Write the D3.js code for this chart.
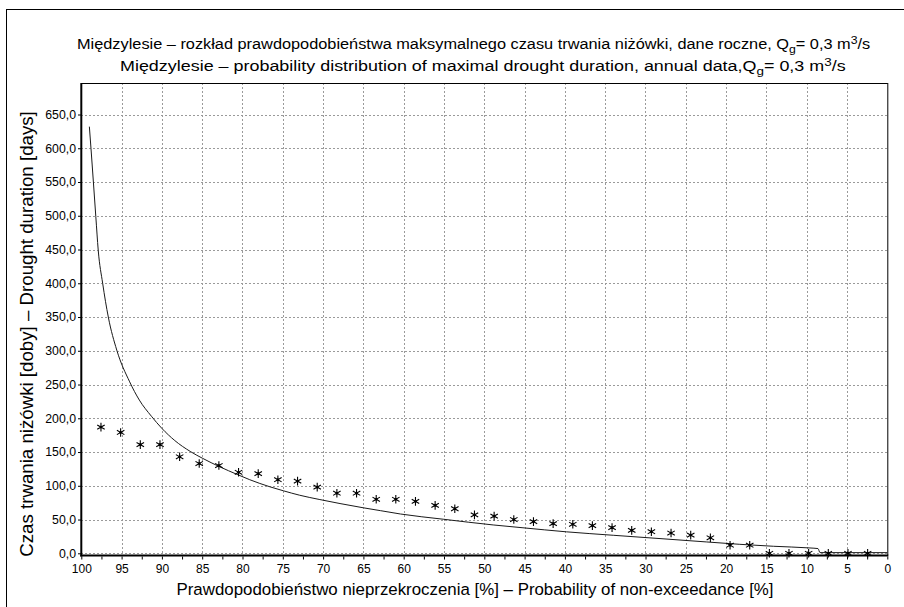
<!DOCTYPE html>
<html>
<head>
<meta charset="utf-8">
<script src="https://cdn.jsdelivr.net/npm/d3@7"></script>
<style>
  html, body { margin: 0; padding: 0; background: #fff; }
  svg { display: block; font-family: "Liberation Sans", Arial, "DejaVu Sans", sans-serif; }
</style>
</head>
<body>
<svg id="chart" width="904" height="607"></svg>
<script>
// Empirical plotting positions [%] of the 40 annual maxima
const obsProb = [97.56, 95.12, 92.68, 90.24, 87.80, 85.37, 82.93, 80.49, 78.05, 75.61,
                 73.17, 70.73, 68.29, 65.85, 63.41, 60.98, 58.54, 56.10, 53.66, 51.22,
                 48.78, 46.34, 43.90, 41.46, 39.02, 36.59, 34.15, 31.71, 29.27, 26.83,
                 24.39, 21.95, 19.51, 17.07, 14.63, 12.20, 9.76, 7.32, 4.88, 2.44];
// Observed maximal drought duration [days]
const obsDays = [187, 179, 161, 161, 143, 133, 130, 120, 118, 109,
                 107, 98, 89, 89, 80, 80, 77, 71, 66, 57,
                 55, 50, 47, 44, 43, 41, 38, 34, 32, 30,
                 27, 23, 12, 12, 0, 0, 0, 0, 0, 0];

// Fitted distribution: non-exceedance probability [%] and duration [days]
const fitProb = [99.0, 98.8, 98.5, 98.2, 97.9, 97.35, 96.65, 95.6, 94.0, 92.8,
                 91.3, 90.0, 88.4, 86.5, 85.0, 82.8, 80.7, 79.1, 76.6, 74.9,
                 72.9, 70.4, 67.9, 65.0, 62.9, 60.4, 55.1, 48.9, 45.2, 39.8,
                 34.0, 28.2, 22.4, 18.3, 14.1, 9.6, 8.6, 8.35, 0];
const fitDays = [632, 600, 550, 499, 449, 400, 350, 301, 254, 227,
                 203, 185, 167, 151, 141, 128, 117, 109, 98.5, 92.5,
                 86, 79.6, 73.7, 67.4, 63.2, 58.2, 50.5, 42, 37.8, 31.8,
                 26.7, 21.8, 16.8, 13.3, 10.4, 7.9, 7.0, 1, 1];

const xTicks = [100, 95, 90, 85, 80, 75, 70, 65, 60, 55, 50, 45, 40, 35, 30, 25, 20, 15, 10, 5, 0];
const xMinorTicks = [97.5, 92.5, 87.5, 82.5, 77.5, 72.5, 67.5, 62.5, 57.5, 52.5,
                     47.5, 42.5, 37.5, 32.5, 27.5, 22.5, 17.5, 12.5, 7.5, 2.5];
const yTicks = [0, 50, 100, 150, 200, 250, 300, 350, 400, 450, 500, 550, 600, 650];

const titlePl = ["Międzylesie – rozkład prawdopodobieństwa maksymalnego czasu trwania niżówki, dane roczne, Q", "g", "= 0,3 m", "3", "/s"];
const titleEn = ["Międzylesie – probability distribution of maximal drought duration, annual data,Q", "g", "= 0,3 m", "3", "/s"];
const xTitle = "Prawdopodobieństwo nieprzekroczenia [%] – Probability of non-exceedance [%]";
const yTitle = "Czas trwania niżówki [doby] – Drought duration [days]";

const svg = d3.select("#chart");
const plot = { left: 81.3, right: 887.3, top: 83, bottom: 555.5 };

const x = d3.scaleLinear().domain([100, 0]).range([plot.left, plot.right]);
const y = d3.scaleLinear().domain([0, 650]).range([553.3, 114.5]);
const fmtY = d => d3.format(".1f")(d).replace(".", ",");

// outer frame
svg.append("rect")
  .attr("x", 6.5).attr("y", 9.5).attr("width", 920).attr("height", 620)
  .attr("fill", "#fff").attr("stroke", "#000").attr("stroke-width", 1);

// resize a text element's font so that it spans the wanted width
function fitText(sel, width) {
  const fs = parseFloat(sel.attr("font-size"));
  const w = sel.node().getComputedTextLength();
  sel.attr("font-size", (fs * width / w).toFixed(2));
}

// title lines use a horizontally condensed face: keep height, squeeze width
function titleLine(parts, xStart, baseline, width) {
  const g = svg.append("g");
  const t = g.append("text").attr("x", 0).attr("y", 0)
    .attr("font-size", 15.5).attr("fill", "#000");
  t.append("tspan").text(parts[0]);
  t.append("tspan").attr("dy", 4).attr("font-size", "75%").text(parts[1]);
  t.append("tspan").attr("dy", -4).text(parts[2]);
  t.append("tspan").attr("dy", -5).attr("font-size", "75%").text(parts[3]);
  t.append("tspan").attr("dy", 5).text(parts[4]);
  const w = t.node().getComputedTextLength();
  g.attr("transform", `translate(${xStart},${baseline}) scale(${width / w},1)`);
}
titleLine(titlePl, 77, 49, 794);
titleLine(titleEn, 120, 71, 726);

// grid
const grid = svg.append("g").attr("stroke", "#9a9a9a").attr("stroke-width", 1)
  .attr("stroke-dasharray", "2,2").attr("shape-rendering", "crispEdges");
grid.selectAll("line.v").data(xTicks.filter(d => d > 0 && d < 100)).join("line")
  .attr("x1", d => Math.round(x(d)) + 0.5).attr("x2", d => Math.round(x(d)) + 0.5)
  .attr("y1", plot.top).attr("y2", plot.bottom);
grid.selectAll("line.h").data(yTicks).join("line")
  .attr("x1", plot.left).attr("x2", plot.right)
  .attr("y1", d => Math.round(y(d)) + 0.5).attr("y2", d => Math.round(y(d)) + 0.5);

// plot border: thin top/right, heavier axes on left/bottom
svg.append("line").attr("x1", plot.left).attr("x2", plot.right + 0.5)
  .attr("y1", plot.top + 0.5).attr("y2", plot.top + 0.5)
  .attr("stroke", "#000").attr("stroke-width", 1);
svg.append("line").attr("x1", plot.right + 0.5).attr("x2", plot.right + 0.5)
  .attr("y1", plot.top).attr("y2", plot.bottom)
  .attr("stroke", "#000").attr("stroke-width", 1);

// y axis
const yAxis = d3.axisLeft(y).tickValues(yTicks).tickFormat(fmtY).tickSize(3).tickPadding(2);
const gy = svg.append("g").attr("transform", `translate(${plot.left - 0.3},0)`).call(yAxis);
gy.select(".domain").remove();
gy.selectAll("text").attr("font-size", 12.3).attr("fill", "#000")
  .attr("font-family", "\"Liberation Sans\", Arial, sans-serif");
gy.selectAll("line").attr("stroke", "#000");

// x axis
const xAxis = d3.axisBottom(x).tickValues(xTicks).tickFormat(d3.format("d")).tickSize(3).tickPadding(5);
const gx = svg.append("g").attr("transform", `translate(0,${plot.bottom + 1})`).call(xAxis);
gx.select(".domain").remove();
gx.selectAll("text").attr("font-size", 12).attr("fill", "#000")
  .attr("font-family", "\"Liberation Sans\", Arial, sans-serif");
gx.selectAll("line").attr("stroke", "#000");
const xMinor = d3.axisBottom(x).tickValues(xMinorTicks).tickFormat("").tickSize(3);
const gxm = svg.append("g").attr("transform", `translate(0,${plot.bottom + 1})`).call(xMinor);
gxm.select(".domain").remove();
gxm.selectAll("line").attr("stroke", "#000");

svg.append("line").attr("x1", plot.left).attr("x2", plot.left)
  .attr("y1", plot.top).attr("y2", plot.bottom + 1)
  .attr("stroke", "#000").attr("stroke-width", 2);
svg.append("line").attr("x1", plot.left - 1).attr("x2", plot.right + 1)
  .attr("y1", plot.bottom).attr("y2", plot.bottom)
  .attr("stroke", "#000").attr("stroke-width", 2);

// fitted curve
const fitData = fitProb.map((p, i) => ({ p, v: fitDays[i] }));
svg.append("path").datum(fitData)
  .attr("fill", "none").attr("stroke", "#1a1a1a").attr("stroke-width", 1)
  .attr("d", d3.line().x(d => x(d.p)).y(d => y(d.v)).curve(d3.curveMonotoneX));

// observed values as asterisks with a dark centre
const obsData = obsProb.map((p, i) => ({ p, v: obsDays[i] }));
const marks = svg.append("g").selectAll("g").data(obsData).join("g")
  .attr("transform", d => `translate(${x(d.p)},${y(d.v)})`);
marks.append("path")
  .attr("d", d3.symbol(d3.symbolAsterisk, 52)())
  .attr("fill", "none").attr("stroke", "#000").attr("stroke-width", 1.1);
marks.append("circle").attr("r", 1.3).attr("fill", "#000");

// axis titles
const xt = svg.append("text").attr("x", 475).attr("y", 595)
  .attr("text-anchor", "middle").attr("font-size", 16).attr("fill", "#000").text(xTitle);
fitText(xt, 597);
const yt = svg.append("text").attr("transform", "translate(33,334) rotate(-90)")
  .attr("text-anchor", "middle").attr("font-size", 16).attr("fill", "#000").text(yTitle);
fitText(yt, 446);
</script>
</body>
</html>
